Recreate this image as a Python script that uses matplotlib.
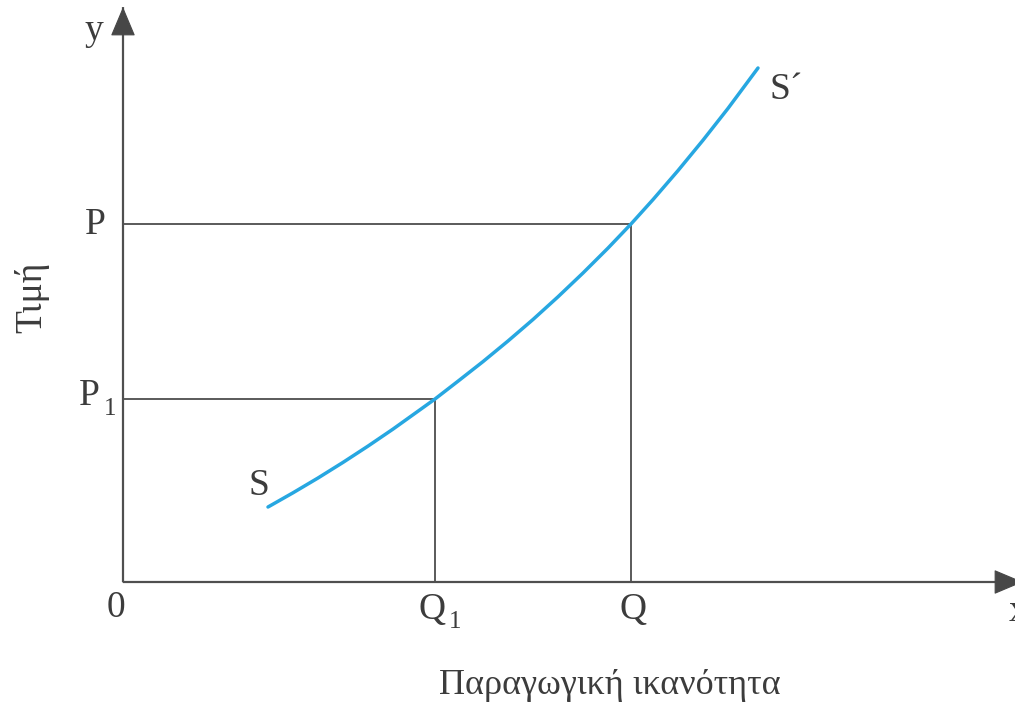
import matplotlib
matplotlib.use("Agg")
import matplotlib.pyplot as plt
from matplotlib.patches import FancyArrowPatch

# Supply curve S–S' (quantity, price)
supply_q = [1.45, 1.70, 1.95, 2.20, 2.45, 2.70, 2.95, 3.12, 3.35, 3.60, 3.85,
            4.10, 4.35, 4.60, 4.85, 5.08, 5.30, 5.55, 5.80, 6.05, 6.35]
supply_p = [0.750, 0.892, 1.040, 1.196, 1.359, 1.529, 1.708, 1.830, 2.008, 2.204, 2.410,
            2.625, 2.852, 3.090, 3.339, 3.580, 3.824, 4.114, 4.418, 4.736, 5.140]

# Marked points on the curve
q_values = [3.12, 5.08]      # Q1, Q
p_values = [1.83, 3.58]      # P1, P
q_labels = ["Q", "Q"]
q_subs = ["1", ""]
p_labels = ["P", "P"]
p_subs = ["1", ""]

x_axis_end = 9.0
y_axis_end = 5.75

TEXT = "#3c3c3c"
LINE = "#5a5a5a"
HEAD = "#474747"
CURVE = "#27a7e1"
SERIF = ["Liberation Serif", "DejaVu Serif"]

fig = plt.figure(figsize=(10.15, 7.04), dpi=100)
ax = fig.add_axes([0, 0, 1, 1])
ax.set_xlim(-1.23, 8.92)
ax.set_ylim(-1.22, 5.82)
ax.axis("off")

# Axes with arrow heads
for start, end in [((0, 0), (x_axis_end, 0)), ((0, 0), (0, y_axis_end))]:
    ax.plot([start[0], end[0]], [start[1], end[1]], color=LINE, lw=1.6, zorder=3,
            solid_capstyle="butt")
    ax.add_patch(FancyArrowPatch(start, end, arrowstyle="-|>,head_length=1.9,head_width=0.8",
                                 mutation_scale=10, lw=0.8, color=HEAD,
                                 shrinkA=0, shrinkB=0, zorder=3))

# Guide lines from the axes to the curve points
for q, p in zip(q_values, p_values):
    ax.plot([0, q], [p, p], color=LINE, lw=1.4, solid_capstyle="butt", zorder=2)
    ax.plot([q, q], [0, p], color=LINE, lw=1.4, solid_capstyle="butt", zorder=2)

# Supply curve
ax.plot(supply_q, supply_p, color=CURVE, lw=2.5, solid_capstyle="round",
        solid_joinstyle="round", zorder=4)

fs = 27
sub_fs = 18

# Quantity labels
for q, lab, sub in zip(q_values, q_labels, q_subs):
    if sub:
        ax.text(q - 0.03, -0.28, lab, ha="center", va="center", fontsize=fs,
                family=SERIF, color=TEXT)
        ax.text(q + 0.20, -0.40, sub, ha="center", va="center", fontsize=sub_fs,
                family=SERIF, color=TEXT)
    else:
        ax.text(q + 0.02, -0.28, lab, ha="center", va="center", fontsize=fs,
                family=SERIF, color=TEXT)

# Price labels
for p, lab, sub in zip(p_values, p_labels, p_subs):
    if sub:
        ax.text(-0.34, p + 0.03, lab, ha="center", va="center", fontsize=fs,
                family=SERIF, color=TEXT)
        ax.text(-0.13, p - 0.10, sub, ha="center", va="center", fontsize=sub_fs,
                family=SERIF, color=TEXT)
    else:
        ax.text(-0.28, p - 0.01, lab, ha="center", va="center", fontsize=fs,
                family=SERIF, color=TEXT)

# Origin and axis letters
ax.text(-0.07, -0.26, "0", ha="center", va="center", fontsize=fs, family=SERIF, color=TEXT)
ax.text(-0.29, y_axis_end - 0.24, "y", ha="center", va="center", fontsize=fs,
        family=SERIF, color=TEXT)
ax.text(x_axis_end - 0.14, -0.30, "x", ha="left", va="center", fontsize=fs,
        family=SERIF, color=TEXT)

# Curve end labels
ax.text(supply_q[0] - 0.09, supply_p[0] + 0.21, "S", ha="center", va="center",
        fontsize=fs, family=SERIF, color=TEXT)
ax.text(supply_q[-1] + 0.12, supply_p[-1] - 0.22, "S\u00b4", ha="left", va="center",
        fontsize=fs, family=SERIF, color=TEXT)

# Axis titles
ax.text(-0.91, 2.85, "Τιμή", ha="center", va="center", rotation=90,
        fontsize=fs, family=SERIF, color=TEXT)
ax.text(4.87, -1.03, "Παραγωγική ικανότητα", ha="center", va="center",
        fontsize=26, family=SERIF, color=TEXT)

fig.savefig("out.png", dpi=100, facecolor="white")
